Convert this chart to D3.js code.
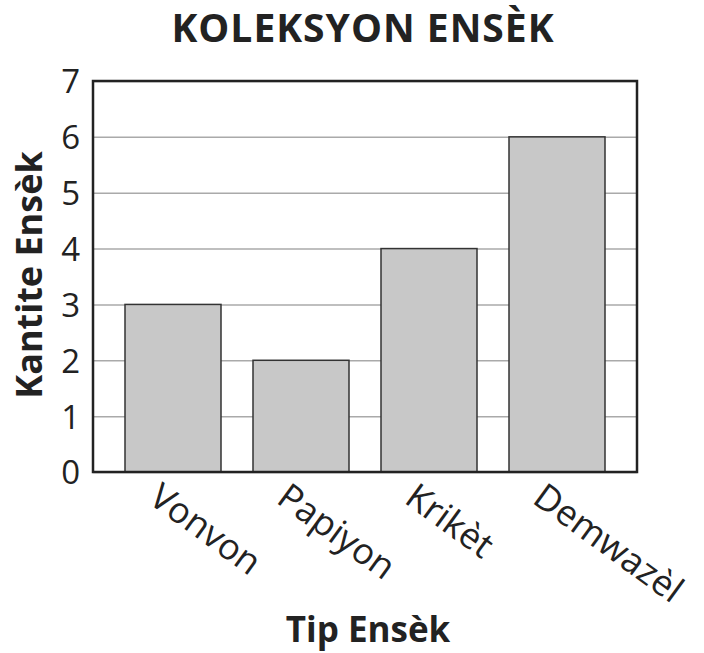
<!DOCTYPE html>
<html>
<head>
<meta charset="utf-8">
<script src="https://cdn.jsdelivr.net/npm/d3@7/dist/d3.min.js"></script>
<style>
  html, body { margin: 0; padding: 0; background: #fff; }
  text { font-family: "Open Sans", "DejaVu Sans", sans-serif; fill: #222; }
</style>
</head>
<body>
<svg id="chart" width="704" height="653"></svg>
<script>
const categories = ["Vonvon", "Papiyon", "Krikèt", "Demwazèl"];
const values = [3, 2, 4, 6];
const yTicks = [0, 1, 2, 3, 4, 5, 6, 7];
const chartTitle = "KOLEKSYON ENSÈK";
const xTitle = "Tip Ensèk";
const yTitle = "Kantite Ensèk";

const svg = d3.select("#chart");
const W = 704, H = 653;
const margin = { left: 93, right: W - 637, top: 81, bottom: H - 472 };

const x = d3.scaleBand().domain(categories).range([margin.left, W - margin.right])
  .paddingInner(0.25).paddingOuter(0.25);
const y = d3.scaleLinear().domain([0, 7]).range([H - margin.bottom, margin.top]);

// gridlines
svg.append("g")
  .attr("transform", `translate(${margin.left},0)`)
  .call(d3.axisLeft(y).tickValues(yTicks).tickSize(-(W - margin.left - margin.right)).tickFormat(""))
  .call(g => g.select(".domain").remove())
  .call(g => g.selectAll("line").attr("stroke", "#aaa").attr("stroke-width", 1.5));

// bars
svg.append("g").selectAll("rect").data(categories).join("rect")
  .attr("x", d => x(d))
  .attr("y", (d, i) => y(values[i]))
  .attr("width", x.bandwidth())
  .attr("height", (d, i) => y(0) - y(values[i]))
  .attr("fill", "#c8c8c8")
  .attr("stroke", "#333")
  .attr("stroke-width", 1.5);

// frame
svg.append("rect")
  .attr("x", margin.left).attr("y", margin.top)
  .attr("width", W - margin.left - margin.right)
  .attr("height", H - margin.top - margin.bottom)
  .attr("fill", "none").attr("stroke", "#222").attr("stroke-width", 2.5);

// y tick labels
svg.append("g")
  .attr("transform", `translate(${margin.left},0)`)
  .call(d3.axisLeft(y).tickValues(yTicks).tickFormat(d3.format("d")).tickSize(0).tickPadding(13))
  .call(g => g.select(".domain").remove())
  .call(g => g.selectAll("text").attr("dy", "0.36em").style("font-size", "33px").style("font-family", '"Open Sans", sans-serif').attr("fill", "#222"));

// x tick labels
svg.append("g")
  .attr("transform", `translate(0,${H - margin.bottom})`)
  .call(d3.axisBottom(x).tickSize(0).tickPadding(0))
  .call(g => g.select(".domain").remove())
  .call(g => g.selectAll("text")
    .attr("text-anchor", "start")
    .attr("dy", 0)
    .attr("y", 0)
    .attr("transform", "translate(-26,30) rotate(36)")
    .style("font-size", "36px").style("font-family", '"Open Sans", sans-serif').attr("fill", "#222"));

// titles
svg.append("text").attr("x", 363).attr("y", 42).attr("text-anchor", "middle")
  .style("font-size", "39px").style("font-weight", "bold").style("letter-spacing", "1px").text(chartTitle);
svg.append("text").attr("x", 368).attr("y", 642).attr("text-anchor", "middle")
  .style("font-size", "35px").style("font-weight", "bold").text(xTitle);
svg.append("text").attr("transform", `translate(42,275) rotate(-90)`).attr("text-anchor", "middle")
  .style("font-size", "36px").style("font-weight", "bold").text(yTitle);
</script>
</body>
</html>
